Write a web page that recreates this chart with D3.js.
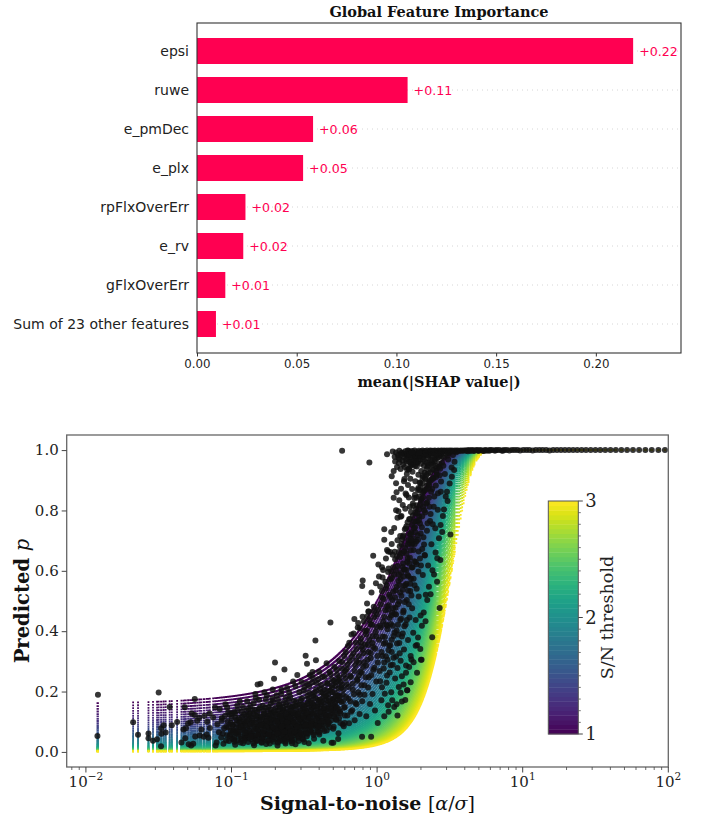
<!DOCTYPE html>
<html>
<head>
<meta charset="utf-8">
<script src="https://cdn.jsdelivr.net/npm/d3@7"></script>
<style>
  body { margin: 0; background: #fff; }
  svg { display: block; }
</style>
</head>
<body>
<svg id="fig" width="703" height="821"></svg>
<script>
// ---------- Global feature importance (mean |SHAP|) ----------
const features = ["epsi", "ruwe", "e_pmDec", "e_plx", "rpFlxOverErr", "e_rv", "gFlxOverErr", "Sum of 23 other features"];
const meanAbsShap = [0.2187, 0.1056, 0.0582, 0.0532, 0.0243, 0.0232, 0.0142, 0.0095];
const shapTicks = [0, 0.05, 0.10, 0.15, 0.20];

// ---------- Predicted p vs signal-to-noise ----------
const thresholds = [1.00, 1.04, 1.08, 1.12, 1.16, 1.20, 1.24, 1.28, 1.32, 1.36, 1.40, 1.44, 1.48, 1.52, 1.56,
  1.60, 1.64, 1.68, 1.72, 1.76, 1.80, 1.84, 1.88, 1.92, 1.96, 2.00, 2.04, 2.08, 2.12, 2.16, 2.20, 2.24, 2.28,
  2.32, 2.36, 2.40, 2.44, 2.48, 2.52, 2.56, 2.60, 2.64, 2.68, 2.72, 2.76, 2.80, 2.84, 2.88, 2.92, 2.96, 3.00];
const snrTicks = [0.01, 0.1, 1, 10, 100];
const snrTickExp = ["\u22122", "\u22121", "0", "1", "2"];
const probTicks = [0, 0.2, 0.4, 0.6, 0.8, 1.0];
const cbarTicks = [1, 2, 3];

// sources as [S/N, predicted p]
const lowSnrSources = [[0.0121,0.189],[0.0120,0.053],[0.0211,0.098],[0.0228,0.057],[0.0316,0.197],[0.0269,0.061],
  [0.0269,0.045],[0.0289,0.037],[0.0308,0.042],[0.0328,0.019],[0.0330,0.060],[0.0329,0.078],[0.0342,0.088],
  [0.0353,0.064],[0.0376,0.149],[0.0389,0.088],[0.0423,0.099],[0.0453,0.031],[0.0468,0.074],[0.0477,0.148],
  [0.0481,0.045],[0.0486,0.078],[0.0503,0.094],[0.0508,0.025],[0.0528,0.021],[0.0524,0.098],[0.0533,0.127],
  [0.0546,0.027],[0.0559,0.175],[0.0559,0.122],[0.0563,0.051],[0.0581,0.103],[0.0600,0.113],[0.0605,0.054],
  [0.0621,0.074],[0.0645,0.050],[0.0652,0.120],[0.0676,0.058],[0.0681,0.100],[0.0694,0.047],[0.0708,0.127],
  [0.0710,0.079],[0.0748,0.114],[0.0771,0.148],[0.0778,0.021]];

const faintSources = [[0.079,0.031],[0.080,0.092],[0.082,0.065],[0.083,0.142],[0.085,0.048],[0.086,0.112],
  [0.088,0.027],[0.089,0.078],[0.091,0.158],[0.093,0.055],[0.094,0.101],[0.096,0.036],[0.097,0.124],[0.099,0.071],
  [0.101,0.044],[0.102,0.088],[0.104,0.132],[0.106,0.024],[0.107,0.061],[0.109,0.105],[0.111,0.039],[0.113,0.081],
  [0.114,0.168],[0.116,0.052],[0.118,0.116],[0.120,0.029],[0.121,0.074],[0.123,0.095],[0.125,0.047],[0.127,0.137],
  [0.128,0.063],[0.130,0.033],[0.132,0.109],[0.133,0.084],[0.135,0.152],
  [0.137,0.041],[0.138,0.097],[0.140,0.068],[0.141,0.126],[0.143,0.022],[0.144,0.083],[0.146,0.054],[0.147,0.178],
  [0.149,0.109],[0.150,0.036],[0.151,0.223],[0.152,0.072],[0.154,0.141],[0.155,0.049],[0.157,0.091],[0.158,0.226],
  [0.159,0.118],[0.161,0.030],[0.162,0.064],[0.164,0.153],[0.165,0.086],[0.167,0.043],[0.168,0.122],[0.170,0.071],
  [0.172,0.102],[0.173,0.026],[0.175,0.187],[0.176,0.058],[0.178,0.134],[0.180,0.079],[0.181,0.039],[0.183,0.113],
  [0.185,0.067],[0.186,0.161],[0.188,0.094],[0.190,0.051],[0.192,0.207],[0.193,0.128],[0.195,0.034],[0.196,0.242],
  [0.198,0.075],[0.199,0.296],[0.201,0.146],[0.203,0.057],[0.205,0.104],[0.207,0.021],[0.209,0.172],[0.211,0.087],
  [0.213,0.046],[0.215,0.119],[0.217,0.066],[0.219,0.193],[0.221,0.098],[0.223,0.037],[0.225,0.139],[0.227,0.082],
  [0.229,0.053],[0.231,0.273],[0.233,0.111],[0.235,0.028],[0.237,0.158],[0.239,0.073],[0.241,0.212],[0.243,0.092],
  [0.246,0.044],[0.248,0.131],[0.250,0.061],[0.253,0.183],[0.255,0.103],[0.257,0.035],[0.260,0.148],[0.262,0.078],
  [0.265,0.233],[0.267,0.055],[0.270,0.121],[0.272,0.089],[0.275,0.025],[0.278,0.167],[0.280,0.069],[0.283,0.255],
  [0.286,0.114],[0.289,0.047],[0.292,0.198],[0.295,0.085],[0.298,0.139]];

const midSources = [[0.302,0.062],[0.305,0.177],[0.308,0.098],[0.311,0.041],[0.314,0.134],[0.317,0.213],[0.320,0.076],
  [0.323,0.319],[0.326,0.115],[0.329,0.052],[0.330,0.292],[0.333,0.162],[0.336,0.088],[0.339,0.029],[0.342,0.196],
  [0.345,0.255],[0.348,0.125],[0.351,0.067],[0.355,0.148],[0.358,0.231],[0.360,0.265],[0.362,0.094],[0.366,0.183],
  [0.369,0.044],[0.373,0.119],[0.377,0.369],[0.380,0.304],[0.381,0.206],[0.385,0.079],[0.389,0.152],[0.393,0.241],
  [0.397,0.103],[0.400,0.266],[0.401,0.058],[0.405,0.174],[0.410,0.131],[0.414,0.222],[0.418,0.086],[0.423,0.195],
  [0.427,0.037],[0.432,0.143],[0.436,0.249],[0.441,0.109],[0.446,0.186],[0.450,0.294],[0.451,0.071],[0.456,0.228],
  [0.461,0.157],[0.466,0.097],[0.471,0.265],[0.476,0.203],[0.478,0.429],[0.482,0.128],[0.487,0.030],[0.492,0.239],
  [0.497,0.172],[0.503,0.083],[0.508,0.281],[0.514,0.145],[0.519,0.219],[0.525,0.106],[0.531,0.256],[0.537,0.187],
  [0.543,0.062],[0.549,0.301],[0.555,0.134],[0.561,0.232],[0.568,0.165],[0.574,0.276],[0.581,0.091],[0.587,0.208],
  [0.594,0.318],[0.600,0.149],[0.607,0.243]];

const coreSources = [[0.092,0.083],[0.095,0.131],[0.098,0.058],[0.100,0.112],[0.103,0.072],[0.105,0.049],[0.108,0.093],
  [0.110,0.138],[0.112,0.066],[0.115,0.101],[0.117,0.043],[0.119,0.087],[0.122,0.124],[0.124,0.056],[0.126,0.099],
  [0.129,0.078],[0.131,0.045],[0.134,0.127],[0.136,0.062],[0.139,0.106],[0.142,0.047],[0.145,0.139],[0.148,0.077],
  [0.150,0.118],[0.153,0.058],[0.156,0.103],[0.160,0.081],[0.163,0.047],[0.166,0.136],[0.169,0.095],[0.171,0.058],
  [0.174,0.116],[0.177,0.084],[0.179,0.149],[0.182,0.053],[0.184,0.097],[0.187,0.072],[0.189,0.131],[0.191,0.041],
  [0.194,0.108],[0.197,0.061],[0.200,0.089],[0.202,0.124],[0.204,0.074],[0.206,0.043],[0.208,0.137],[0.210,0.099],
  [0.212,0.063],[0.214,0.152],[0.216,0.081],[0.218,0.112],[0.220,0.052],[0.222,0.127],[0.224,0.071],[0.226,0.095],
  [0.228,0.163],[0.230,0.042],[0.232,0.085],[0.234,0.118],[0.236,0.064],[0.238,0.101],[0.240,0.143],[0.242,0.056],
  [0.244,0.079],[0.247,0.121],[0.249,0.096],[0.252,0.048],[0.254,0.136],[0.256,0.071],[0.258,0.108],[0.261,0.087],
  [0.263,0.151],[0.266,0.062],[0.268,0.099],[0.271,0.041],[0.273,0.128],[0.276,0.076],[0.279,0.112],[0.281,0.154],
  [0.284,0.058],[0.287,0.093],[0.290,0.131],[0.293,0.067],[0.296,0.106],[0.299,0.172],[0.303,0.084],[0.306,0.121],
  [0.309,0.055],[0.313,0.097],[0.316,0.155],[0.319,0.108],[0.322,0.071],[0.325,0.136],[0.328,0.092],[0.332,0.185],
  [0.335,0.061],[0.338,0.117],[0.341,0.146],[0.344,0.083],[0.347,0.105],[0.350,0.168],[0.354,0.076],[0.357,0.128],
  [0.361,0.092],[0.364,0.157],[0.368,0.063],[0.372,0.138],[0.376,0.101],[0.379,0.178],[0.383,0.089],[0.387,0.122],
  [0.391,0.069],[0.395,0.161],[0.399,0.112],[0.404,0.087],[0.408,0.145],[0.412,0.198],[0.416,0.118],[0.421,0.076],
  [0.425,0.164],[0.430,0.101],[0.434,0.207],[0.439,0.129],[0.444,0.088],[0.448,0.171],[0.453,0.113],[0.458,0.143],
  [0.463,0.192],[0.468,0.121],[0.473,0.082],[0.479,0.158],[0.484,0.105],[0.490,0.213],[0.495,0.137],[0.500,0.176],
  [0.506,0.117],[0.512,0.195],[0.518,0.152],[0.524,0.231],[0.530,0.128],[0.536,0.171],[0.542,0.209],[0.548,0.112],
  [0.554,0.184]];

const blobSources = [[0.0855,0.104],[0.0872,0.061],[0.0901,0.119],[0.0918,0.038],[0.0934,0.147],[0.0952,0.082],
  [0.0968,0.053],[0.0987,0.096],[0.1005,0.127],[0.1022,0.067],[0.1041,0.041],[0.1063,0.114],[0.1078,0.079],
  [0.1096,0.154],[0.1117,0.058],[0.1134,0.098],[0.1152,0.031],[0.1171,0.133],[0.1193,0.071],[0.1212,0.105],
  [0.1228,0.046],[0.1249,0.088],[0.1267,0.121],[0.1288,0.057],[0.1306,0.143],[0.1325,0.069],[0.1347,0.092],
  [0.1372,0.113],[0.1394,0.052],[0.1418,0.161],[0.1436,0.074],[0.1459,0.097],[0.1482,0.039],[0.1503,0.131],
  [0.1527,0.086],[0.1549,0.064],[0.1571,0.148],[0.1598,0.107],[0.1621,0.045],[0.1647,0.091],[0.1672,0.128],
  [0.1694,0.062],[0.1721,0.174],[0.1748,0.083],[0.1772,0.036],[0.1797,0.119],[0.1824,0.098],[0.1851,0.142],
  [0.1876,0.055],[0.1903,0.082],[0.1931,0.166],[0.1958,0.049],[0.1987,0.114],[0.2015,0.071],[0.2043,0.188],
  [0.2072,0.094],[0.2101,0.128],[0.2132,0.037],[0.2163,0.147],[0.2194,0.076],[0.2226,0.109],
  [0.2258,0.058],[0.2291,0.134],[0.2323,0.092],[0.2357,0.179],[0.2391,0.047],[0.2425,0.116],[0.2461,0.083],
  [0.2497,0.152],[0.2532,0.068],[0.2569,0.124],[0.2605,0.039],[0.2643,0.101],[0.2681,0.169],[0.2719,0.064],
  [0.2758,0.138],[0.2797,0.091],[0.2838,0.118],[0.2879,0.052],[0.2921,0.157],[0.2962,0.079],[0.3004,0.111],
  [0.3047,0.045],[0.3091,0.144],[0.3136,0.203],[0.3181,0.086],[0.3226,0.126],[0.3273,0.061],[0.3319,0.159],
  [0.3367,0.099],[0.3415,0.218],[0.3463,0.073],[0.3513,0.137],
  [0.3562,0.104],[0.3613,0.189],[0.3664,0.056],[0.3716,0.151],[0.3769,0.087],[0.3822,0.229],[0.3877,0.118],
  [0.3931,0.172],[0.3987,0.064],[0.4043,0.211],[0.4101,0.097],[0.4159,0.156],[0.4218,0.249],[0.4278,0.124],
  [0.4339,0.069],[0.4401,0.183],[0.4463,0.139],[0.4527,0.226],[0.4591,0.092],[0.4656,0.168],[0.4722,0.118],
  [0.4789,0.257],[0.4857,0.146],[0.4926,0.198],[0.4996,0.077],[0.5067,0.236],[0.5139,0.163],[0.5212,0.109],
  [0.5286,0.272],[0.5361,0.187],[0.5437,0.141],[0.5514,0.246],[0.5592,0.096],[0.5671,0.213],[0.5752,0.298],
  [0.5834,0.168],[0.5917,0.257],[0.6001,0.121],[0.6086,0.331],[0.6172,0.224],[0.6259,0.289],[0.6348,0.176],
  [0.6438,0.362],[0.6529,0.252],[0.6622,0.133],[0.6716,0.315],[0.6811,0.206],[0.6908,0.392],[0.7005,0.268],
  [0.7104,0.162],[0.7205,0.341],[0.7307,0.236],[0.7411,0.427],[0.7516,0.295],[0.7622,0.189],[0.7730,0.363],
  [0.7839,0.262],[0.7950,0.448],[0.8063,0.327],[0.8177,0.221],[0.8293,0.401],[0.8411,0.286],[0.8530,0.492],
  [0.8651,0.354],[0.8773,0.247],[0.8897,0.436],[0.9023,0.311],[0.9151,0.528],[0.9281,0.383],[0.9412,0.272],
  [0.9545,0.467],[0.9681,0.342],[0.9818,0.559],[0.9957,0.414],[1.0098,0.296]];

const denseSources = [[0.1015,0.091],[0.1058,0.128],[0.1089,0.068],[0.1126,0.112],[0.1163,0.084],[0.1198,0.149],
  [0.1237,0.064],[0.1272,0.104],[0.1314,0.123],[0.1352,0.051],[0.1389,0.139],[0.1427,0.093],[0.1468,0.121],
  [0.1507,0.057],[0.1546,0.173],[0.1588,0.088],[0.1627,0.114],[0.1668,0.071],[0.1709,0.147],[0.1752,0.102],
  [0.1795,0.058],[0.1838,0.126],[0.1882,0.109],[0.1927,0.081],[0.1972,0.137],[0.2019,0.102],[0.2066,0.062],
  [0.2114,0.158],[0.2163,0.118],[0.2212,0.084],[0.2262,0.146],[0.2313,0.067],[0.2365,0.127],[0.2418,0.099],
  [0.2471,0.171],[0.2526,0.113],[0.2581,0.053],[0.2637,0.131],[0.2694,0.095],[0.2752,0.152],[0.2811,0.083],
  [0.2871,0.124],[0.2931,0.108],[0.2993,0.061],[0.3055,0.156],[0.3118,0.117],[0.3183,0.143],[0.3248,0.089],
  [0.3315,0.129],[0.3382,0.176],[0.3451,0.113],[0.3521,0.086],[0.3592,0.163],[0.3664,0.127],[0.3738,0.197],
  [0.3812,0.109],[0.3888,0.142],[0.3965,0.083],[0.4044,0.134],[0.4123,0.167],[0.4204,0.102],[0.4287,0.183],
  [0.4371,0.148],[0.4456,0.121],[0.4543,0.203],[0.4631,0.099],[0.4721,0.176],[0.4812,0.139],[0.4905,0.221],
  [0.5000,0.157],[0.5096,0.126],[0.5194,0.184],[0.5294,0.147],[0.5396,0.239],[0.5499,0.171],[0.5604,0.128],
  [0.5711,0.223],[0.5820,0.189],[0.5931,0.146],[0.6043,0.268],
  [0.1046,0.034],[0.1224,0.038],[0.1415,0.029],[0.1613,0.033],[0.1832,0.028],[0.2085,0.031],[0.2345,0.034],
  [0.2603,0.029],[0.2887,0.036],[0.3162,0.033],
  [0.1281,0.168],[0.1458,0.192],[0.1683,0.198],[0.1912,0.177],[0.2205,0.206],[0.2487,0.196],[0.2745,0.218],
  [0.3028,0.232],[0.3296,0.226],[0.3605,0.247]];

const transitionSources = [[0.612,0.182],[0.618,0.274],[0.624,0.121],[0.630,0.351],[0.636,0.215],[0.642,0.095],
  [0.648,0.302],[0.655,0.167],[0.661,0.248],[0.667,0.389],[0.674,0.138],[0.680,0.226],[0.687,0.327],[0.694,0.191],
  [0.698,0.440],[0.701,0.105],[0.708,0.286],[0.715,0.362],[0.722,0.158],[0.729,0.241],[0.736,0.412],[0.743,0.198],
  [0.750,0.317],[0.758,0.126],[0.765,0.266],[0.773,0.376],[0.780,0.221],[0.788,0.050],[0.790,0.168],[0.796,0.568],
  [0.797,0.339],[0.803,0.281],[0.811,0.432],[0.819,0.189],[0.827,0.356],[0.835,0.247],[0.843,0.118],[0.851,0.402],
  [0.854,0.449],[0.860,0.305],[0.868,0.213],[0.877,0.465],[0.885,0.371],[0.894,0.159],[0.903,0.328],[0.910,0.050],
  [0.912,0.254],[0.921,0.421],[0.930,0.192],[0.939,0.348],[0.949,0.481],[0.958,0.279],[0.967,0.137],[0.977,0.397],
  [0.987,0.233],[0.996,0.455],[1.006,0.318],[1.010,0.096],[0.600,0.096],[0.590,0.085],[0.500,0.030],[0.540,0.043]];

const curveSources = [[1.05,0.234],[1.06,0.412],[1.07,0.171],[1.08,0.512],[1.09,0.318],[1.11,0.276],[1.12,0.447],
  [1.13,0.193],[1.14,0.362],[1.15,0.541],[1.16,0.229],[1.17,0.418],[1.18,0.305],[1.19,0.155],[1.20,0.486],
  [1.21,0.352],[1.22,0.263],[1.23,0.571],[1.24,0.424],[1.25,0.198],[1.26,0.331],[1.27,0.503],[1.28,0.289],
  [1.29,0.612],[1.30,0.384],[1.31,0.149],[1.32,0.457],[1.33,0.243],[1.34,0.536],[1.35,0.316],[1.36,0.402],
  [1.37,0.648],[1.38,0.278],[1.39,0.489],[1.40,0.566],[1.41,0.215],[1.42,0.361],[1.43,0.681],[1.44,0.437],
  [1.45,0.302],[1.46,0.593],[1.47,0.517],[1.48,0.251],[1.49,0.705],[1.50,0.392],[1.51,0.624],[1.52,0.468],
  [1.53,0.339],[1.54,0.551],[1.55,0.738],[1.57,0.422],[1.58,0.286],[1.59,0.657],[1.60,0.503],[1.61,0.204],
  [1.62,0.761],[1.63,0.371],[1.64,0.582],[1.66,0.692],[1.67,0.445],[1.68,0.812],[1.69,0.533],[1.70,0.318],
  [1.72,0.728],[1.73,0.611],[1.74,0.476],[1.76,0.783],[1.77,0.395],[1.78,0.669],[1.80,0.841],[1.81,0.552],
  [1.83,0.728],[1.84,0.437],[1.85,0.806],[1.87,0.622],[1.88,0.354],[1.90,0.869],[1.91,0.703],[1.93,0.515],
  [1.94,0.781],[1.96,0.893],[1.97,0.641],[1.99,0.452],[2.00,0.832],[2.02,0.305],[2.03,0.744],[2.05,0.908],
  [2.06,0.586],[2.08,0.862],[2.10,0.687],[2.12,0.925],[2.14,0.793],[2.16,0.521],[2.18,0.881],[2.20,0.733],
  [2.22,0.946],[2.24,0.618],[2.27,0.842],[2.29,0.901],[2.31,0.765],[2.34,0.955],[2.36,0.688],[2.39,0.380],
  [2.39,0.871],[2.42,0.935],[2.45,0.812],[2.48,0.962],[2.51,0.741],[2.54,0.911],[2.58,0.564],[2.58,0.973],
  [2.62,0.857],[2.66,0.944],[2.69,0.477],[2.70,0.983],[2.72,0.636],[2.75,0.896],[2.79,0.958],[2.83,0.782],
  [2.87,0.975],[2.92,0.921],[2.97,0.988],[3.02,0.862],[3.08,0.969],[3.14,0.991],[3.19,0.720],[3.25,0.942],
  [3.32,0.984],[3.40,0.961],[3.50,0.993],
  [1.26,0.689],[1.31,0.742],[1.35,0.801],[1.38,0.776],[1.42,0.834],[1.46,0.872],[1.50,0.818],[1.53,0.897],
  [1.57,0.856],[1.60,0.921],[1.63,0.884],[1.65,0.938],[1.69,0.905],[1.72,0.952],[1.75,0.928],[1.79,0.966],
  [1.82,0.947],[1.86,0.974],[1.89,0.958],[1.93,0.981],[1.97,0.969],[2.01,0.986],[2.06,0.976],[2.11,0.990],
  [2.17,0.982],[2.23,0.993],[2.30,0.987],[2.37,0.995],[2.44,0.991],[1.44,0.715],[1.48,0.658],[1.55,0.604],
  [1.59,0.557],[1.66,0.624],[1.71,0.574],[1.75,0.691],[1.80,0.632],[1.86,0.697],[1.92,0.598],[1.99,0.724],
  [2.04,0.672],[2.13,0.651],[2.21,0.826],[2.33,0.788],[1.15,0.641],[1.19,0.596],[1.23,0.662],[1.09,0.578],
  [1.02,0.621],[1.12,0.703]];

const bandSources = [[1.03,0.372],[1.04,0.268],[1.06,0.489],[1.07,0.331],[1.08,0.214],[1.10,0.432],[1.11,0.507],
  [1.12,0.296],[1.13,0.381],[1.14,0.469],[1.16,0.552],[1.17,0.253],[1.18,0.406],[1.20,0.337],[1.21,0.521],
  [1.22,0.444],[1.24,0.287],[1.25,0.598],[1.26,0.372],[1.27,0.461],[1.29,0.531],[1.30,0.312],[1.31,0.587],
  [1.32,0.396],[1.33,0.638],[1.34,0.478],[1.36,0.547],[1.37,0.359],[1.38,0.616],[1.39,0.421],[1.41,0.662],
  [1.42,0.498],[1.43,0.327],[1.45,0.573],[1.46,0.441],[1.47,0.689],[1.48,0.382],[1.50,0.537],[1.51,0.462],
  [1.52,0.718],[1.53,0.604],[1.54,0.416],[1.56,0.676],[1.57,0.552],[1.58,0.741],[1.60,0.437],[1.61,0.629],
  [1.62,0.586],[1.64,0.702],[1.65,0.489],[1.66,0.771],[1.68,0.643],[1.69,0.557],[1.71,0.795],[1.72,0.518],
  [1.73,0.687],[1.75,0.612],[1.76,0.823],[1.78,0.574],[1.79,0.741],[1.81,0.689],[1.82,0.852],[1.84,0.629],
  [1.85,0.764],[1.87,0.541],[1.88,0.817],[1.90,0.718],[1.92,0.874],[1.93,0.664],[1.95,0.803],[1.97,0.757],
  [1.98,0.892],[2.00,0.618],[2.02,0.839],[2.04,0.781],[2.06,0.914],[2.08,0.711],[2.10,0.866],[2.12,0.652],
  [2.15,0.903],[2.17,0.823],[2.19,0.937],[2.22,0.758],[2.24,0.889],[2.26,0.951],[2.29,0.812],[2.32,0.926],
  [2.35,0.862],[2.38,0.961],[2.41,0.754],[2.44,0.908],[2.47,0.846],[2.50,0.969],[2.53,0.883],[2.57,0.941],
  [2.61,0.802],[2.65,0.976],[2.69,0.917],[2.74,0.862],[2.78,0.979],
  [1.09,0.382],[1.15,0.317],[1.19,0.472],[1.23,0.353],[1.28,0.418],[1.35,0.455],[1.40,0.389],[1.44,0.528],
  [1.49,0.613],[1.55,0.497],[1.59,0.603],[1.63,0.534],[1.67,0.721],[1.70,0.668],[1.74,0.753],[1.77,0.706],
  [1.83,0.792],[1.89,0.763],[1.94,0.846],[1.99,0.876],[2.05,0.858],[2.11,0.801],[2.18,0.918],[2.25,0.873],
  [2.34,0.899],[2.43,0.952],[2.55,0.929],[2.67,0.955],[2.85,0.948],[3.05,0.982],
  [1.30,0.931],[1.33,0.962],[1.37,0.944],[1.39,0.984],[1.43,0.969],[1.45,0.937],[1.47,0.991],[1.51,0.952],
  [1.53,0.977],[1.55,0.944],[1.57,0.988],[1.59,0.962],[1.61,0.935],[1.63,0.979],[1.65,0.961],[1.67,0.994],
  [1.69,0.947],[1.71,0.982],[1.73,0.967],[1.77,0.952],[1.80,0.985],[1.83,0.971],[1.87,0.946],[1.90,0.988],
  [1.92,0.963],[1.96,0.978],[2.00,0.955],[2.03,0.992],[2.07,0.968],[2.10,0.981],[2.14,0.962],[2.19,0.989],
  [2.25,0.973],[2.31,0.996],[2.38,0.979],[2.46,0.997],[2.55,0.985],[2.65,0.994],[2.76,0.989],[2.90,0.996]];

const steepSources = [[0.72,0.302],[0.75,0.253],[0.78,0.349],[0.81,0.297],[0.84,0.389],[0.87,0.331],[0.90,0.423],
  [0.93,0.361],[0.96,0.447],[0.99,0.382],[1.02,0.471],[1.05,0.419],[1.08,0.532],[1.11,0.358],[1.14,0.564],
  [1.17,0.482],[1.20,0.608],[1.23,0.513],[1.26,0.576],[1.29,0.476],[1.32,0.663],[1.35,0.602],[1.38,0.701],
  [1.41,0.587],[1.44,0.646],[1.47,0.782],[1.50,0.713],[1.53,0.664],[1.56,0.806],[1.59,0.748],[1.62,0.687],
  [1.65,0.843],[1.68,0.772],[1.71,0.721],[1.74,0.871],[1.77,0.816],[1.80,0.764],[1.83,0.897],[1.86,0.842],
  [1.89,0.791],[1.92,0.918],[1.95,0.867],[1.98,0.819],[2.01,0.931],[2.04,0.889],[2.07,0.843],[2.10,0.948],
  [2.13,0.907],[2.16,0.869],[2.20,0.957],[2.24,0.922],[2.28,0.884],[2.33,0.968],[2.37,0.936],[2.42,0.905],
  [2.47,0.977],[2.52,0.948],[2.57,0.919],[2.63,0.983],[2.71,0.938],
  [1.15,0.422],[1.25,0.452],[1.33,0.512],[1.42,0.553],[1.52,0.581],[1.62,0.641],[1.71,0.703],[1.82,0.744],
  [1.94,0.768],[2.07,0.812]];

// sources lying along the high-threshold side of the curve family
const lateSources = [[1.27,0.171],[1.36,0.158],[1.45,0.196],[1.52,0.223],[1.61,0.204],[1.58,0.262],[1.66,0.281],
  [1.72,0.306],[1.78,0.297],[1.84,0.352],[1.91,0.379],[1.98,0.341],[2.03,0.418],[2.09,0.462],[2.15,0.433],
  [2.21,0.503],[2.27,0.547],[2.33,0.522],[2.40,0.602],[2.46,0.588],[2.52,0.661],[2.59,0.642],[2.66,0.708],
  [2.73,0.752],[2.80,0.729],[2.88,0.803],[2.96,0.846],[3.05,0.831],[3.15,0.889],[3.26,0.912],[3.38,0.934],
  [1.12,0.118],[1.20,0.133],[1.38,0.121],[1.48,0.167],[1.56,0.172],[1.70,0.231],[1.88,0.262],[2.00,0.305]];

const brightOutliers = [[0.575,0.998],[0.885,0.959],[1.28,0.995],[1.49,0.991],[1.50,0.965],[1.66,0.936],[1.54,0.904],
  [1.36,0.860],[1.59,0.851],[1.40,0.797],[1.45,0.779],[1.12,0.738],[1.25,0.729],[0.94,0.650],[1.17,0.669],
  [1.19,0.664],[1.28,0.653],[1.08,0.612],[1.10,0.603],[0.79,0.550],[1.03,0.581],[1.05,0.548],[0.87,0.465],
  [0.76,0.410],[1.17,0.986],[1.32,0.978],[1.41,0.957],[1.26,0.913],[1.35,0.890],[1.30,0.842]];

const saturatedSources = [[1.52,0.988],[1.56,0.996],[1.61,0.981],[1.64,0.998],[1.68,0.991],[1.71,0.976],[1.74,0.997],
  [1.78,0.986],[1.81,0.999],[1.84,0.979],[1.87,0.994],[1.91,0.989],[1.94,0.998],[1.98,0.983],[2.02,0.995],
  [2.05,0.999],[2.09,0.987],[2.13,0.997],[2.16,0.992],[2.20,0.999],[2.24,0.984],[2.28,0.996],[2.32,0.999],
  [2.36,0.990],[2.40,0.998],[2.45,0.994],[2.49,0.999],[2.54,0.987],[2.59,0.997],[2.63,0.999],[2.68,0.993],
  [2.73,0.998],[2.78,0.999],[2.84,0.995],[2.89,0.999],[2.95,0.997],[3.01,0.999],[3.07,0.992],[3.13,0.999],
  [3.20,0.998],[3.27,0.999],[3.34,0.996],[3.42,0.999],[3.50,0.998],[3.58,0.999],[3.66,0.997],[3.75,0.999],
  [3.84,0.998],[3.93,0.999],[4.03,0.999],
  [1.35,0.992],[1.42,0.998],[1.46,0.984],[1.58,0.969],[1.70,0.958],[1.76,0.990],[1.85,0.962],[1.95,0.993],
  [1.40,0.975],[1.62,0.999],[1.66,0.985],[1.73,0.993],
  [4.12,0.999],[4.25,1.0],[4.38,0.998],[4.51,1.0],[4.66,0.999],[4.81,1.0],[4.97,0.999],[5.14,1.0],[5.32,0.998],
  [5.51,1.0],[5.71,0.999],[5.93,1.0],[6.15,1.0],[6.39,0.999],[6.64,1.0],[6.90,1.0],[7.18,0.999],[7.47,1.0],
  [7.78,1.0],[8.10,0.999],[8.45,1.0],[8.81,1.0],[9.2,1.0],[9.6,0.999],[10.1,1.0],[10.6,1.0],[11.1,1.0],
  [11.7,0.999],[12.3,1.0],[13.0,1.0],[13.7,1.0],[14.5,1.0],[15.3,0.999],[16.2,1.0],[17.2,1.0],[18.3,1.0],
  [19.5,1.0],[20.8,1.0],[22.2,1.0],[23.7,1.0],[25.4,1.0],[27.2,1.0],[29.3,1.0],[31.6,1.0],[34.1,1.0],
  [36.9,1.0],[40.1,1.0],[43.6,1.0],[47.6,1.0],[52.1,1.0],[57.2,1.0],[63.0,1.0],[69.6,1.0],[77.0,1.0],
  [85.5,1.0],[94.8,1.0],
  [4.2,0.996],[4.6,0.997],[5.0,0.998],[5.4,0.997],[5.9,0.998],[6.5,0.999],[7.3,0.998],[4.4,0.999],[4.9,0.999],
  [5.6,0.999]];

const sources = [].concat(lowSnrSources, faintSources, midSources, coreSources, blobSources, denseSources,
  transitionSources, curveSources, bandSources, steepSources, lateSources, brightOutliers, saturatedSources);

// standard normal CDF (Abramowitz & Stegun 7.1.26 for erf)
function normCdf(z) {
  const x = Math.abs(z) / Math.SQRT2;
  const t = 1 / (1 + 0.3275911 * x);
  const y = 1 - (((((1.061405429 * t - 1.453152027) * t) + 1.421413741) * t - 0.284496736) * t + 0.254829592) * t * Math.exp(-x * x);
  return 0.5 * (1 + (z < 0 ? -y : y));
}

const svg = d3.select("#fig");
const SANS = "DejaVu Sans";
const SERIF = "DejaVu Serif";

// ================= Panel 1: bar chart =================
(function () {
  const left = 197, right = 681, top = 23, bottom = 353;
  const red = "#ff0051";
  const x = d3.scaleLinear().domain([0, 0.2427]).range([left, right]);
  const y = d3.scalePoint().domain(features).range([51, 324]);
  const barH = 26;
  const g = svg.append("g");

  // dotted row guides
  g.selectAll("line.guide").data(features).join("line")
    .attr("x1", left).attr("x2", right)
    .attr("y1", d => y(d)).attr("y2", d => y(d))
    .attr("stroke", "#cccccc").attr("stroke-width", 0.8)
    .attr("stroke-dasharray", "1,4");

  g.selectAll("rect.bar").data(features).join("rect")
    .attr("x", x(0))
    .attr("y", d => y(d) - barH / 2)
    .attr("width", (d, i) => x(meanAbsShap[i]) - x(0))
    .attr("height", barH)
    .attr("fill", red);

  g.selectAll("text.val").data(features).join("text")
    .attr("x", (d, i) => x(meanAbsShap[i]) + 6)
    .attr("y", d => y(d))
    .attr("dy", "0.36em")
    .attr("font-family", SANS).attr("font-size", 12.6)
    .attr("fill", red)
    .text((d, i) => "+" + meanAbsShap[i].toFixed(2));

  g.selectAll("text.feat").data(features).join("text")
    .attr("x", left - 8)
    .attr("y", d => y(d))
    .attr("dy", "0.36em")
    .attr("text-anchor", "end")
    .attr("font-family", SANS).attr("font-size", 14)
    .attr("fill", "#222")
    .text(d => d);

  // frame
  g.append("rect").attr("x", left).attr("y", top)
    .attr("width", right - left).attr("height", bottom - top)
    .attr("fill", "none").attr("stroke", "#333").attr("stroke-width", 1.1);

  const ax = g.append("g").attr("transform", `translate(0,${bottom})`)
    .call(d3.axisBottom(x).tickValues(shapTicks).tickFormat(d3.format(".2f")).tickSize(3.5).tickPadding(3));
  ax.select(".domain").remove();
  ax.selectAll("line").attr("stroke", "#333");
  ax.selectAll("text").attr("font-family", SANS).attr("font-size", 11.8).attr("fill", "#222");

  g.append("text").attr("x", (left + right) / 2).attr("y", 17)
    .attr("text-anchor", "middle").attr("font-family", SERIF)
    .attr("font-weight", "bold").attr("font-size", 14.5).attr("fill", "#111")
    .text("Global Feature Importance");

  g.append("text").attr("x", (left + right) / 2).attr("y", 387)
    .attr("text-anchor", "middle").attr("font-family", SERIF)
    .attr("font-weight", "bold").attr("font-size", 14.5).attr("fill", "#111")
    .text("mean(|SHAP value|)");
})();

// ================= Panel 2: predicted p vs S/N =================
(function () {
  const left = 66.7, right = 668.3, top = 435, bottom = 767;
  const x = d3.scaleLog().domain([0.00738, 100]).range([left, right]);
  const y = d3.scaleLinear().domain([-0.05, 1.05]).range([bottom, top]);
  const color = d3.scaleSequential(d3.interpolateViridis).domain([1, 3]);
  const g = svg.append("g");

  svg.append("defs").append("clipPath").attr("id", "plotClip")
    .append("rect").attr("x", left).attr("y", top).attr("width", right - left).attr("height", bottom - top);

  const plot = g.append("g").attr("clip-path", "url(#plotClip)");

  // detection-probability curves, one per threshold, sampled at each source's S/N
  const curves = plot.append("g");
  thresholds.forEach(t => {
    let d = "";
    sources.forEach(s => {
      const px = x(s[0]), py = y(normCdf(s[0] - t));
      d += `M${(px - 0.9).toFixed(2)},${(py - 0.9).toFixed(2)}h1.8v1.8h-1.8z`;
    });
    curves.append("path").attr("d", d).attr("fill", color(t));
  });

  // sources
  plot.append("g").selectAll("circle").data(sources).join("circle")
    .attr("cx", d => x(d[0])).attr("cy", d => y(d[1]))
    .attr("r", 3).attr("fill", "#111").attr("fill-opacity", 0.84);

  // frame
  g.append("rect").attr("x", left).attr("y", top)
    .attr("width", right - left).attr("height", bottom - top)
    .attr("fill", "none").attr("stroke", "#666").attr("stroke-width", 1.3);

  // y axis
  const ay = g.append("g").attr("transform", `translate(${left},0)`)
    .call(d3.axisLeft(y).tickValues(probTicks).tickFormat(d3.format(".1f")).tickSize(5).tickPadding(3));
  ay.select(".domain").remove();
  ay.selectAll("line").attr("stroke", "#444");
  ay.selectAll("text").attr("font-family", SERIF).attr("font-size", 15).attr("fill", "#222");

  // x axis: major and minor log ticks
  const minor = x.ticks().filter(v => !snrTicks.some(m => Math.abs(v / m - 1) < 1e-6));
  const ax = g.append("g").attr("transform", `translate(0,${bottom})`);
  ax.selectAll("line.minor").data(minor).join("line")
    .attr("x1", d => x(d)).attr("x2", d => x(d)).attr("y1", 0).attr("y2", 3)
    .attr("stroke", "#444").attr("stroke-width", 0.8);
  ax.selectAll("line.major").data(snrTicks).join("line")
    .attr("x1", d => x(d)).attr("x2", d => x(d)).attr("y1", 0).attr("y2", 5.5)
    .attr("stroke", "#444").attr("stroke-width", 1);
  const lbl = ax.selectAll("text.major").data(snrTicks).join("text")
    .attr("x", d => x(d)).attr("y", 20)
    .attr("text-anchor", "middle").attr("font-family", SERIF).attr("font-size", 15).attr("fill", "#222");
  lbl.append("tspan").text("10");
  lbl.append("tspan").attr("dy", -7).attr("font-size", 10.5).text((d, i) => snrTickExp[i]);

  // axis titles
  const xt = g.append("text").attr("x", (left + right) / 2).attr("y", 810)
    .attr("text-anchor", "middle").attr("font-family", SERIF).attr("font-size", 19).attr("fill", "#111");
  xt.append("tspan").attr("font-weight", "bold").text("Signal-to-noise ");
  xt.append("tspan").text("[");
  xt.append("tspan").attr("font-style", "italic").text("\u03b1");
  xt.append("tspan").text("/");
  xt.append("tspan").attr("font-style", "italic").text("\u03c3");
  xt.append("tspan").text("]");

  const yt = g.append("text").attr("transform", `translate(29,${(top + bottom) / 2}) rotate(-90)`)
    .attr("text-anchor", "middle").attr("font-family", SERIF).attr("font-size", 19.5).attr("fill", "#111");
  yt.append("tspan").attr("font-weight", "bold").text("Predicted ");
  yt.append("tspan").attr("font-style", "italic").text("p");

  // colorbar
  const cbL = 548.3, cbR = 578.3, cbTop = 501, cbBot = 734;
  const cy = d3.scaleLinear().domain([1, 3]).range([cbBot, cbTop]);
  const cb = g.append("g");
  const bands = d3.pairs(thresholds);
  cb.selectAll("rect.band").data(bands).join("rect")
    .attr("x", cbL).attr("width", cbR - cbL)
    .attr("y", d => cy(d[1])).attr("height", d => cy(d[0]) - cy(d[1]) + 0.4)
    .attr("fill", d => color((d[0] + d[1]) / 2));
  cb.append("rect").attr("x", cbL).attr("y", cbTop).attr("width", cbR - cbL).attr("height", cbBot - cbTop)
    .attr("fill", "none").attr("stroke", "#555").attr("stroke-width", 1);
  const cbMinor = d3.range(11, 30).map(v => v / 10).filter(v => v !== 2);
  cb.selectAll("line.minor").data(cbMinor).join("line")
    .attr("x1", cbR).attr("x2", cbR + 2.5).attr("y1", d => cy(d)).attr("y2", d => cy(d))
    .attr("stroke", "#555").attr("stroke-width", 0.8);
  cb.selectAll("line.major").data(cbarTicks).join("line")
    .attr("x1", cbR).attr("x2", cbR + 4.5).attr("y1", d => cy(d)).attr("y2", d => cy(d))
    .attr("stroke", "#444").attr("stroke-width", 1);
  cb.selectAll("text.tick").data(cbarTicks).join("text")
    .attr("x", cbR + 7).attr("y", d => cy(d)).attr("dy", "0.36em")
    .attr("font-family", SERIF).attr("font-size", 18).attr("fill", "#222")
    .text(d => d);
  cb.append("text").attr("transform", `translate(613,${(cbTop + cbBot) / 2}) rotate(-90)`)
    .attr("text-anchor", "middle").attr("font-family", SERIF).attr("font-size", 17.5).attr("fill", "#222")
    .text("S/N threshold");
})();
</script>
</body>
</html>
